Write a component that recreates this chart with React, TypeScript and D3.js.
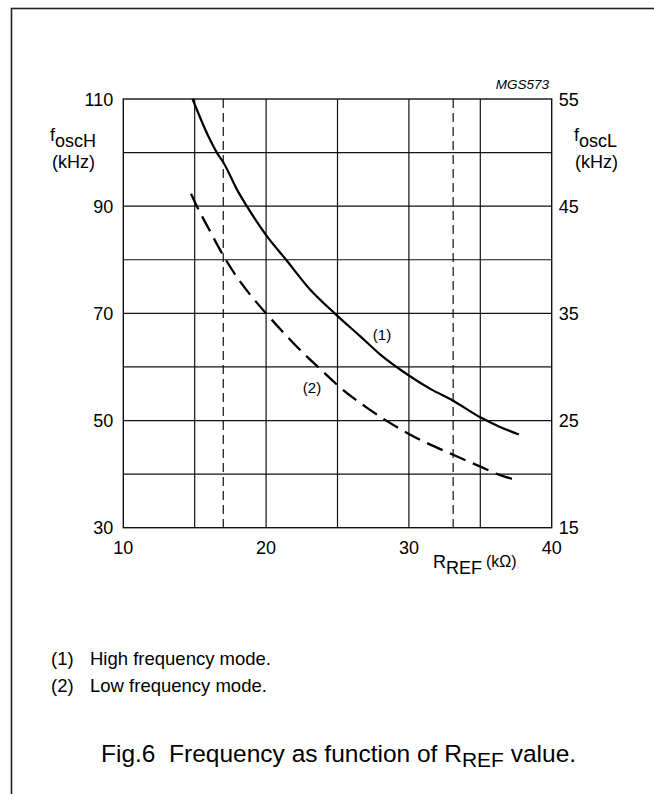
import React, { useRef, useEffect } from 'react';
import * as d3 from 'd3';

// axes
const xTicks = [10, 20, 30, 40];
const leftTicks = [30, 50, 70, 90, 110];
const rightTicks = [15, 25, 35, 45, 55];
const gridX = [15, 20, 25, 30, 35];
const gridY = [40, 50, 60, 70, 80, 90, 100];
const refLines = [17, 33.1];

// (1) high frequency mode, left axis (kHz)
const rHigh = [14.85, 16, 16.55, 17, 18, 18.65, 20, 21.4, 23, 24.8, 26.6, 28, 30, 31.5, 33.1, 35, 36.3, 37.7];
const fHigh = [110, 102.8, 100, 98.2, 92.9, 90, 84.6, 80, 74.7, 70, 65.7, 62.3, 58.4, 55.9, 53.7, 50.6, 48.9, 47.4];

// (2) low frequency mode, right axis (kHz)
const rLow = [14.75, 15.15, 16, 17, 18, 19, 20, 22, 24.6, 25, 27, 30, 33.1, 35, 36.2, 37.5];
const fLow = [46.15, 45, 42.85, 40.4, 38.3, 36.55, 35, 32.1, 28.8, 28.3, 26.25, 23.75, 21.8, 20.7, 20, 19.45];

const notes = ['High frequency mode.', 'Low frequency mode.'];

const W = 654;
const H = 794;
const FONT = '"Liberation Sans", Arial, Helvetica, sans-serif';

const App: React.FC = () => {
  const svgRef = useRef<SVGSVGElement>(null);

  useEffect(() => {
    if (!svgRef.current) return;
    const svg = d3.select(svgRef.current);
    svg.selectAll('*').remove();

    const x0 = 123.3, x1 = 551.7, y0 = 99, y1 = 527.7;

    const x = d3.scaleLinear().domain([10, 40]).range([x0, x1]);
    const yL = d3.scaleLinear().domain([30, 110]).range([y1, y0]);
    const yR = d3.scaleLinear().domain([15, 55]).range([y1, y0]);

    // outer frame
    svg.append('rect')
      .attr('x', 11.5).attr('y', 8.5)
      .attr('width', W + 20).attr('height', H + 20)
      .attr('fill', 'none').attr('stroke', '#222').attr('stroke-width', 1.6);

    const g = svg.append('g');

    // grid
    g.selectAll('.gx').data(gridX).enter().append('line')
      .attr('x1', d => x(d)).attr('x2', d => x(d))
      .attr('y1', y0).attr('y2', y1)
      .attr('stroke', '#111').attr('stroke-width', 1.2);
    g.selectAll('.gy').data(gridY).enter().append('line')
      .attr('x1', x0).attr('x2', x1)
      .attr('y1', d => yL(d)).attr('y2', d => yL(d))
      .attr('stroke', '#111').attr('stroke-width', 1.2);

    // dashed reference lines
    g.selectAll('.ref').data(refLines).enter().append('line')
      .attr('x1', d => x(d)).attr('x2', d => x(d))
      .attr('y1', y0).attr('y2', y1)
      .attr('stroke', '#111').attr('stroke-width', 1.2)
      .attr('stroke-dasharray', '9,5');

    // plot border
    g.append('rect')
      .attr('x', x0).attr('y', y0)
      .attr('width', x1 - x0).attr('height', y1 - y0)
      .attr('fill', 'none').attr('stroke', '#111').attr('stroke-width', 1.4);

    // curves
    const high = rHigh.map((r, i) => [r, fHigh[i]] as [number, number]);
    const low = rLow.map((r, i) => [r, fLow[i]] as [number, number]);

    const lineHigh = d3.line<[number, number]>()
      .x(d => x(d[0])).y(d => yL(d[1]))
      .curve(d3.curveMonotoneX);
    const lineLow = d3.line<[number, number]>()
      .x(d => x(d[0])).y(d => yR(d[1]))
      .curve(d3.curveMonotoneX);

    g.append('path').attr('d', lineHigh(high)!)
      .attr('fill', 'none').attr('stroke', '#000').attr('stroke-width', 2.2);
    g.append('path').attr('d', lineLow(low)!)
      .attr('fill', 'none').attr('stroke', '#000').attr('stroke-width', 2.3)
      .attr('stroke-dasharray', '17,8');

    // curve labels
    g.append('text').attr('x', 382).attr('y', 340)
      .attr('text-anchor', 'middle').attr('font-size', 15).attr('font-family', FONT)
      .text('(1)');
    g.append('text').attr('x', 312).attr('y', 393)
      .attr('text-anchor', 'middle').attr('font-size', 15).attr('font-family', FONT)
      .text('(2)');

    // tick labels
    const tickFont = 18;
    svg.selectAll('.lt').data(leftTicks).enter().append('text')
      .attr('x', x0 - 10).attr('y', d => yL(d) + 6.5)
      .attr('text-anchor', 'end').attr('font-size', tickFont).attr('font-family', FONT)
      .text(d => d);
    svg.selectAll('.rt').data(rightTicks).enter().append('text')
      .attr('x', x1 + 7).attr('y', d => yR(d) + 6.5)
      .attr('text-anchor', 'start').attr('font-size', tickFont).attr('font-family', FONT)
      .text(d => d);
    svg.selectAll('.xt').data(xTicks).enter().append('text')
      .attr('x', d => x(d)).attr('y', y1 + 26)
      .attr('text-anchor', 'middle').attr('font-size', tickFont).attr('font-family', FONT)
      .text(d => d);

    // axis titles
    const fLeft = svg.append('text').attr('x', 50).attr('y', 141)
      .attr('font-size', 18).attr('font-family', FONT);
    fLeft.append('tspan').text('f');
    fLeft.append('tspan').attr('dy', 6).text('oscH');
    svg.append('text').attr('x', 52).attr('y', 168)
      .attr('font-size', 18).attr('font-family', FONT).text('(kHz)');

    const fRight = svg.append('text').attr('x', 574).attr('y', 141)
      .attr('font-size', 18).attr('font-family', FONT);
    fRight.append('tspan').text('f');
    fRight.append('tspan').attr('dy', 6).text('oscL');
    svg.append('text').attr('x', 575).attr('y', 168)
      .attr('font-size', 18).attr('font-family', FONT).text('(kHz)');

    const rTitle = svg.append('text').attr('x', 433).attr('y', 568)
      .attr('font-size', 18).attr('font-family', FONT);
    rTitle.append('tspan').text('R');
    rTitle.append('tspan').attr('dy', 6).text('REF');
    rTitle.append('tspan').attr('dy', -7).attr('dx', 4).attr('font-size', 16).text('(kΩ)');

    // code
    svg.append('text').attr('x', 549).attr('y', 89)
      .attr('text-anchor', 'end').attr('font-size', 13.5).attr('font-style', 'italic')
      .attr('font-family', FONT).text('MGS573');

    // notes
    notes.forEach((n, i) => {
      svg.append('text').attr('x', 51).attr('y', 665 + i * 27)
        .attr('font-size', 18.5).attr('font-family', FONT).text(`(${i + 1})`);
      svg.append('text').attr('x', 90).attr('y', 665 + i * 27)
        .attr('font-size', 18.5).attr('font-family', FONT).text(n);
    });

    // caption
    const cap = svg.append('text').attr('x', 101).attr('y', 762)
      .attr('font-size', 24.5).attr('font-family', FONT)
      .style('white-space', 'pre');
    cap.append('tspan').text('Fig.6  Frequency as function of R');
    cap.append('tspan').attr('dy', 5).attr('font-size', 21).text('REF');
    cap.append('tspan').attr('dy', -5).text(' value.');
  }, []);

  return (
    <svg ref={svgRef} width={W} height={H}
      style={{ position: 'absolute', left: 0, top: 0, background: '#fff' }} />
  );
};

export default App;
